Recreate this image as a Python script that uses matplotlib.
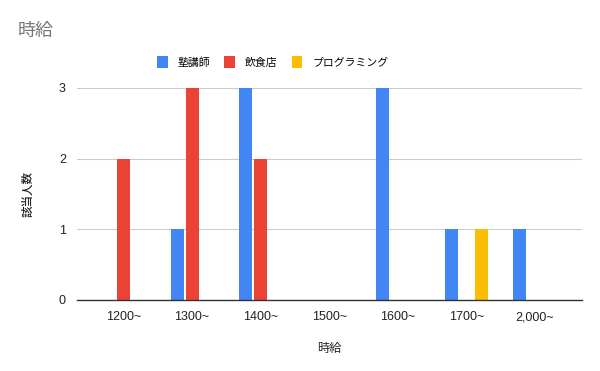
import matplotlib
matplotlib.use('Agg')
import matplotlib.pyplot as plt
import numpy as np

plt.rcParams['font.family'] = ['Liberation Sans', 'Noto Sans CJK JP', 'DejaVu Sans']

categories = ['1200~', '1300~', '1400~', '1500~', '1600~', '1700~', '2,000~']
series_names = ['塾講師', '飲食店', 'プログラミング']
juku = [0, 1, 3, 0, 3, 1, 1]
inshoku = [2, 3, 2, 0, 0, 0, 0]
programming = [0, 0, 0, 0, 0, 1, 0]
colors = ['#4285F4', '#EA4335', '#FBBC04']

fig = plt.figure(figsize=(6, 3.71), dpi=100)
ax = fig.add_axes([77 / 600, 71 / 371, 505 / 600, 212 / 371])

x = np.arange(len(categories))
width = 0.19
step = 0.219
for i, (vals, name, c) in enumerate(zip([juku, inshoku, programming], series_names, colors)):
    ax.bar(x + (i - 1) * step, vals, width, color=c, label=name, zorder=3)

ax.set_xlim(-0.68, 6.69)
ax.set_ylim(0, 3)
ax.set_yticks([0, 1, 2, 3])
ax.set_xticks(x)
ax.set_xticklabels(categories)
ax.grid(axis='y', color='#cccccc', linewidth=0.8, zorder=0)
for s in ['top', 'right', 'left']:
    ax.spines[s].set_visible(False)
ax.spines['bottom'].set_color('#333333')
ax.spines['bottom'].set_linewidth(1.0)
ax.spines['bottom'].set_zorder(4)
ax.tick_params(axis='both', length=0, labelsize=9, labelcolor='#222222')
ax.tick_params(axis='x', pad=8)
ax.tick_params(axis='y', pad=8)

ax.set_xlabel('時給', fontsize=8.8, color='#222222', labelpad=14)
ax.set_ylabel('該当人数', fontsize=8.3, color='#222222', labelpad=18, fontweight='medium')

fig.text(18 / 600, 1 - 31 / 371, '時給', fontsize=13, color='#757575', va='center', ha='left')

fig.legend(loc='center left', bbox_to_anchor=(157 / 600, 1 - 62 / 371), ncol=3, frameon=False,
           fontsize=7.8, handlelength=1.0, handleheight=1.45, handletextpad=0.9,
           columnspacing=1.3, borderaxespad=0, borderpad=0)

fig.savefig('out.png', dpi=100)
